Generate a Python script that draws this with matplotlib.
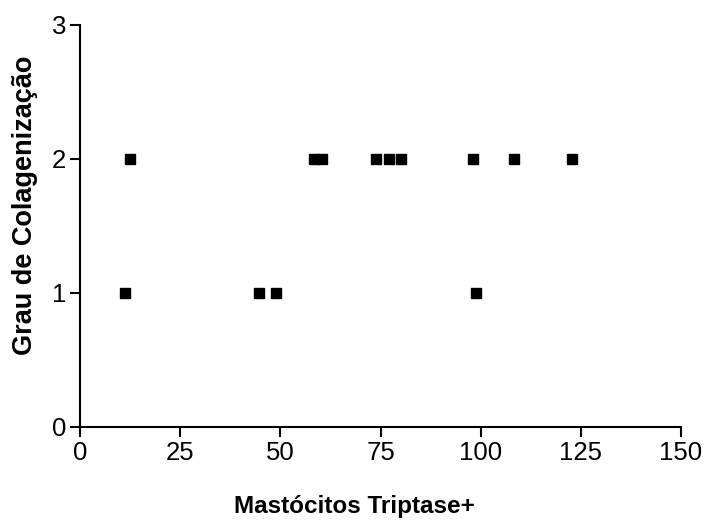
import matplotlib
matplotlib.use("Agg")
import matplotlib.pyplot as plt

# Values
mastocitos = [12.4, 58.3, 60.5, 73.9, 77.1, 80.2, 98.0, 108.2, 122.9,
              11.3, 44.7, 48.8, 98.9]
grau = [2, 2, 2, 2, 2, 2, 2, 2, 2,
        1, 1, 1, 1]

x_ticks = [0, 25, 50, 75, 100, 125, 150]
y_ticks = [0, 1, 2, 3]

plt.rcParams["font.family"] = ["Liberation Sans", "DejaVu Sans"]

fig = plt.figure(figsize=(7.1, 5.2), dpi=100)
ax = fig.add_axes([0.1127, 0.1794, 0.8465, 0.7726])

ax.plot(mastocitos, grau, "s", color="black", markersize=6.5, linestyle="none")

ax.set_xlim(0, 150)
ax.set_ylim(0, 3)
ax.set_xticks(x_ticks)
ax.set_yticks(y_ticks)

for side in ("top", "right"):
    ax.spines[side].set_visible(False)
for side in ("left", "bottom"):
    ax.spines[side].set_linewidth(1.5)

ax.tick_params(axis="both", direction="out", length=7, width=1.5,
               labelsize=18.5, pad=3)

ax.set_xlabel("Mastócitos Triptase+", fontsize=17.5, fontweight="bold", labelpad=22)
ax.set_ylabel("Grau de Colagenização", fontsize=19.5, fontweight="bold", labelpad=10)
# labels in the reference sit a little off-centre
ax.xaxis.label.set_x(0.456)
ax.yaxis.label.set_y(0.55)

fig.savefig("out.png", dpi=100)
